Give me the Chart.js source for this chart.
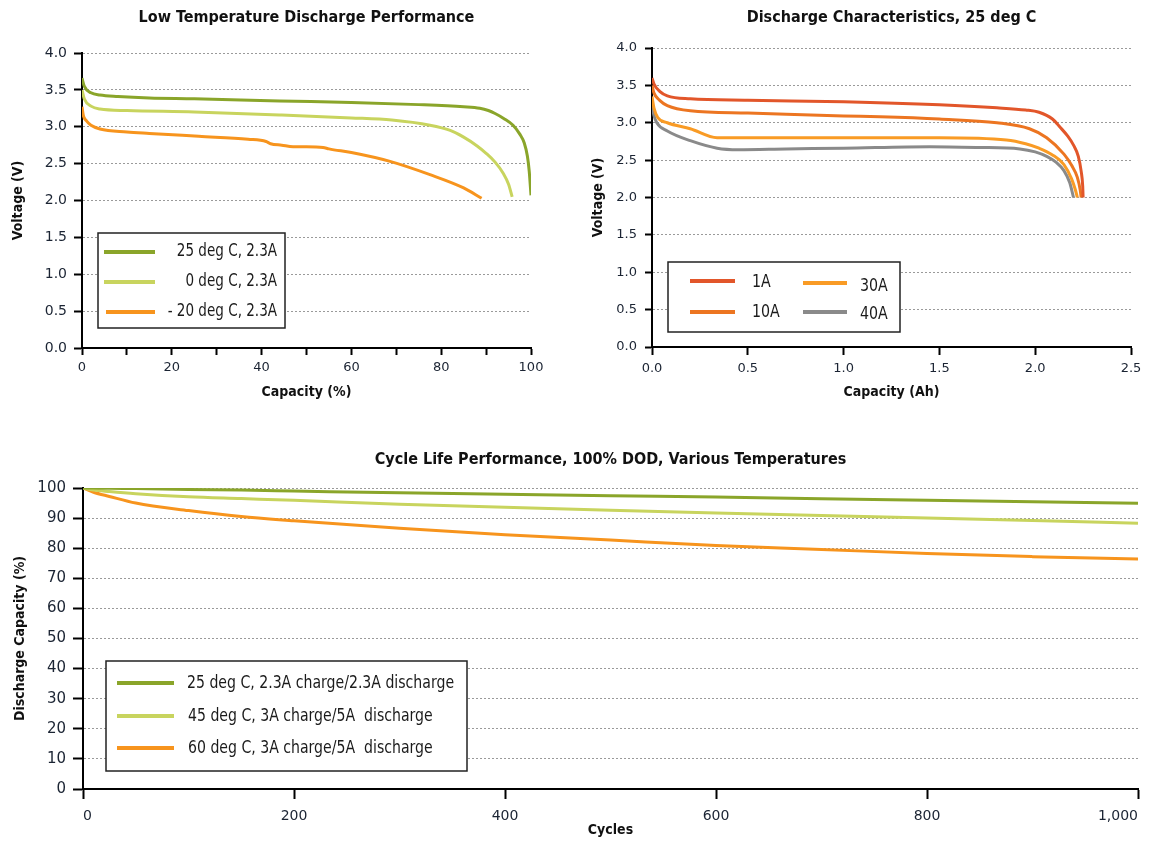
<!DOCTYPE html>
<html>
<head>
<meta charset="utf-8">
<script src="https://cdn.jsdelivr.net/npm/chart.js@4.4.0/dist/chart.umd.min.js"></script>
<style>
html, body { margin: 0; padding: 0; background: #fff; overflow: hidden; width: 1150px; height: 843px; }
canvas { position: absolute; }
</style>
</head>
<body>
<canvas id="c1" width="575" height="410" style="left:0;top:0"></canvas>
<canvas id="c2" width="575" height="410" style="left:575px;top:0"></canvas>
<canvas id="c3" width="1180" height="413" style="left:0;top:430px"></canvas>
<script>
// --- Low temperature discharge (capacity %, voltage V)
const cap25 = [0, 0.5, 2, 4, 8, 15, 25, 44, 60, 75, 85, 88.6, 90.5, 92, 94, 96, 97.5, 98.5, 99.2, 99.6, 100];
const volt25 = [3.66, 3.55, 3.46, 3.43, 3.41, 3.39, 3.38, 3.35, 3.33, 3.30, 3.27, 3.25, 3.22, 3.18, 3.11, 3.02, 2.90, 2.78, 2.60, 2.40, 2.07];
const cap0 = [0, 0.5, 2, 4, 10, 25, 44, 60, 69, 77.5, 82, 85, 88, 90, 92, 93.8, 95, 95.8];
const volt0 = [3.50, 3.38, 3.28, 3.24, 3.22, 3.20, 3.16, 3.12, 3.09, 3.02, 2.95, 2.86, 2.74, 2.64, 2.52, 2.37, 2.22, 2.05];
const capM20 = [0, 0.3, 1, 2, 4, 10, 15, 26, 37, 41, 42, 44.5, 47, 50, 53.7, 55, 60, 68.6, 77.5, 85, 89];
const voltM20 = [3.27, 3.15, 3.08, 3.02, 2.97, 2.93, 2.91, 2.87, 2.83, 2.80, 2.77, 2.75, 2.73, 2.73, 2.72, 2.70, 2.65, 2.53, 2.35, 2.17, 2.03];
const lowTempLabels = ['25 deg C, 2.3A', '0 deg C, 2.3A', '- 20 deg C, 2.3A'];

// --- Discharge at 25 deg C (capacity Ah, voltage V)
const ah1 = [0, 0.01, 0.04, 0.08, 0.2, 0.5, 1.0, 1.5, 1.8, 1.95, 2.02, 2.09, 2.13, 2.17, 2.20, 2.225, 2.24, 2.248, 2.25];
const v1 = [3.60, 3.52, 3.42, 3.36, 3.32, 3.30, 3.28, 3.24, 3.20, 3.17, 3.14, 3.05, 2.94, 2.82, 2.70, 2.55, 2.35, 2.15, 2.00];
const ah10 = [0, 0.01, 0.04, 0.08, 0.2, 0.5, 1.0, 1.19, 1.5, 1.8, 1.97, 2.06, 2.15, 2.19, 2.22, 2.235, 2.24];
const v10 = [3.50, 3.40, 3.30, 3.23, 3.16, 3.13, 3.09, 3.08, 3.05, 3.00, 2.92, 2.80, 2.58, 2.43, 2.27, 2.10, 2.00];
const ah30 = [0, 0.01, 0.03, 0.08, 0.2, 0.34, 0.5, 1.0, 1.5, 1.85, 1.95, 2.02, 2.09, 2.15, 2.19, 2.21, 2.22];
const v30 = [3.35, 3.20, 3.07, 3.00, 2.92, 2.80, 2.80, 2.80, 2.80, 2.77, 2.72, 2.66, 2.57, 2.44, 2.25, 2.10, 2.00];
const ah40 = [0, 0.01, 0.025, 0.08, 0.2, 0.34, 0.45, 0.7, 1.0, 1.45, 1.7, 1.92, 2.0, 2.06, 2.11, 2.15, 2.18, 2.20];
const v40 = [3.22, 3.10, 3.00, 2.89, 2.76, 2.66, 2.64, 2.65, 2.66, 2.68, 2.67, 2.65, 2.61, 2.55, 2.47, 2.36, 2.20, 2.00];
const rateLabels = ['1A', '10A', '30A', '40A'];

// --- Cycle life (cycles, discharge capacity %)
const cycles = [0, 10, 25, 50, 100, 150, 200, 300, 400, 500, 600, 700, 800, 900, 1000];
const life25 = [100, 100, 99.9, 99.8, 99.5, 99.3, 99.0, 98.4, 97.9, 97.4, 97.0, 96.4, 95.9, 95.4, 94.9];
const life45 = [100, 99.3, 98.8, 98.1, 97.1, 96.5, 95.9, 94.6, 93.6, 92.6, 91.7, 90.9, 90.0, 89.2, 88.3];
const life60 = [100, 98.6, 97.2, 95.0, 92.5, 90.5, 89.1, 86.6, 84.5, 82.7, 80.9, 79.6, 78.2, 77.2, 76.4];
const lifeLabels = ['25 deg C, 2.3A charge/2.3A discharge', '45 deg C, 3A charge/5A  discharge', '60 deg C, 3A charge/5A  discharge'];

const GREEN = '#8aa52a', LIGHT = '#c8d45e', ORANGE = '#f7941d';
const TICK_COLOR = '#1b2433';
const COND = "'DejaVu Sans Condensed', 'DejaVu Sans', sans-serif";

const toXY = (xs, ys) => xs.map((x, i) => ({ x: x, y: ys[i] }));

function line(label, xs, ys, color) {
  return {
    label: label, data: toXY(xs, ys), borderColor: color, backgroundColor: color,
    borderWidth: 3, pointRadius: 0, cubicInterpolationMode: 'monotone', fill: false
  };
}

// draws the boxed legend inside the plot (text squeezed to look like a narrow face)
const boxLegend = {
  id: 'boxLegend',
  afterDatasetsDraw(chart, args, o) {
    if (!o || !o.items) return;
    const ctx = chart.ctx;
    ctx.save();
    ctx.fillStyle = '#fff';
    ctx.fillRect(o.x, o.y, o.w, o.h);
    ctx.strokeStyle = '#222';
    ctx.lineWidth = 1.5;
    ctx.strokeRect(o.x, o.y, o.w, o.h);
    ctx.font = o.font;
    ctx.textBaseline = 'middle';
    chart.data.datasets.forEach((ds, i) => {
      const it = o.items[i];
      ctx.strokeStyle = ds.borderColor;
      ctx.lineWidth = 4;
      ctx.beginPath();
      ctx.moveTo(it.x1, it.y);
      ctx.lineTo(it.x2, it.y);
      ctx.stroke();
      ctx.save();
      ctx.translate(it.tx, it.ty || it.y);
      ctx.scale(o.squeeze || 1, 1);
      ctx.fillStyle = '#1b1b1b';
      ctx.textAlign = it.align || 'left';
      ctx.fillText(ds.label, 0, 0);
      ctx.restore();
    });
    ctx.restore();
  }
};
Chart.register(boxLegend);

function xAxis(o) {
  return {
    type: 'linear', min: o.min, max: o.max,
    afterFit: s => { s.height = o.height; },
    ticks: {
      stepSize: o.step, autoSkip: false, maxRotation: 0, padding: o.pad, color: TICK_COLOR,
      align: o.align || 'center',
      font: { family: 'DejaVu Sans', size: o.size },
      callback: o.fmt
    },
    grid: { drawOnChartArea: false, drawTicks: true, tickLength: o.tick, tickColor: '#000', tickWidth: 2, tickBorderDash: [] },
    border: { display: true, color: '#000', width: 2 },
    title: { display: true, text: o.title, color: '#111', padding: { top: 0, bottom: o.titlePad },
      font: { family: COND, size: 14, weight: 'bold' } }
  };
}

function yAxis(o) {
  return {
    type: 'linear', min: o.min, max: o.max,
    afterFit: s => { s.width = o.width; },
    ticks: {
      stepSize: o.step, autoSkip: false, padding: o.pad, color: TICK_COLOR,
      font: { family: 'DejaVu Sans', size: o.size },
      callback: o.fmt
    },
    grid: { color: '#9a9a9a', lineWidth: 1, drawTicks: true, tickLength: o.tick, tickColor: '#000', tickWidth: 2, tickBorderDash: [] },
    border: { display: true, color: '#000', width: 2, dash: [2, 2] },
    title: { display: true, text: o.title, color: '#111', padding: { top: o.titlePad, bottom: 0 },
      font: { family: COND, size: 14, weight: 'bold' } }
  };
}

function titleOpts(text, top, bottom) {
  return {
    display: true, text: text, color: '#111', fullSize: false,
    padding: { top: top, bottom: bottom },
    font: { family: COND, size: 16, weight: 'bold' }
  };
}

const common = { responsive: false, animation: false, events: [] };

// Chart 1
new Chart(document.getElementById('c1'), {
  type: 'line',
  data: { datasets: [
    line(lowTempLabels[0], cap25, volt25, GREEN),
    line(lowTempLabels[1], cap0, volt0, LIGHT),
    line(lowTempLabels[2], capM20, voltM20, ORANGE)
  ] },
  options: Object.assign({}, common, {
    layout: { padding: { left: 0, right: 44, top: 0, bottom: 0 } },
    scales: {
      x: xAxis({ min: 0, max: 100, step: 10, height: 62, pad: 5, size: 13, tick: 7, titlePad: 9.6,
        title: 'Capacity (%)', fmt: v => (v % 20 === 0 ? v : '') }),
      y: yAxis({ min: 0, max: 4, step: 0.5, width: 82, pad: 7, size: 14, tick: 8, titlePad: 9.6,
        title: 'Voltage (V)', fmt: v => v.toFixed(1) })
    },
    plugins: {
      legend: { display: false },
      tooltip: { enabled: false },
      title: titleOpts('Low Temperature Discharge Performance', 8.4, 25.4),
      boxLegend: {
        x: 98, y: 233, w: 187, h: 95, font: '17px ' + COND, squeeze: 0.885,
        items: [
          { x1: 104, x2: 155, y: 252, tx: 277, align: 'right' },
          { x1: 104, x2: 155, y: 282, tx: 277, align: 'right' },
          { x1: 106, x2: 155, y: 312, tx: 277, align: 'right' }
        ]
      }
    }
  })
});

// Chart 2
new Chart(document.getElementById('c2'), {
  type: 'line',
  data: { datasets: [
    line(rateLabels[0], ah1, v1, '#e2562a'),
    line(rateLabels[1], ah10, v10, '#ec7521'),
    line(rateLabels[2], ah30, v30, '#f99b25'),
    line(rateLabels[3], ah40, v40, '#8a8a8a')
  ] },
  options: Object.assign({}, common, {
    layout: { padding: { left: 0, right: 19, top: 0, bottom: 0 } },
    scales: {
      x: xAxis({ min: 0, max: 2.5, step: 0.5, height: 63, pad: 6, size: 13, tick: 8, titlePad: 9.6,
        title: 'Capacity (Ah)', fmt: v => v.toFixed(1) }),
      y: yAxis({ min: 0, max: 4, step: 0.5, width: 77, pad: 8, size: 13, tick: 7, titlePad: 14.6,
        title: 'Voltage (V)', fmt: v => v.toFixed(1) })
    },
    plugins: {
      legend: { display: false },
      tooltip: { enabled: false },
      title: titleOpts('Discharge Characteristics, 25 deg C', 8.4, 20.4),
      boxLegend: {
        x: 93, y: 262, w: 232, h: 70, font: '17px ' + COND, squeeze: 0.93,
        items: [
          { x1: 115, x2: 160, y: 281, tx: 177, ty: 283 },
          { x1: 115, x2: 160, y: 312, tx: 177, ty: 313 },
          { x1: 228, x2: 272, y: 283, tx: 285, ty: 287 },
          { x1: 228, x2: 272, y: 312, tx: 285, ty: 315 }
        ]
      }
    }
  })
});

// Chart 3
new Chart(document.getElementById('c3'), {
  type: 'line',
  data: { datasets: [
    line(lifeLabels[0], cycles, life25, GREEN),
    line(lifeLabels[1], cycles, life45, LIGHT),
    line(lifeLabels[2], cycles, life60, ORANGE)
  ] },
  options: Object.assign({}, common, {
    layout: { padding: { left: 0, right: 42, top: 0, bottom: 0 } },
    scales: {
      x: xAxis({ min: 0, max: 1000, step: 200, height: 54, pad: 8.6, size: 14, tick: 10, titlePad: 4.6,
        align: 'inner', title: 'Cycles', fmt: v => v.toLocaleString('en-US') }),
      y: yAxis({ min: 0, max: 100, step: 10, width: 83, pad: 7, size: 15, tick: 10, titlePad: 11.6,
        title: 'Discharge Capacity (%)', fmt: v => v })
    },
    plugins: {
      legend: { display: false },
      tooltip: { enabled: false },
      title: titleOpts('Cycle Life Performance, 100% DOD, Various Temperatures', 20.4, 18.4),
      boxLegend: {
        x: 106, y: 231, w: 361, h: 110, font: '18px ' + COND, squeeze: 0.87,
        items: [
          { x1: 117, x2: 174, y: 253, tx: 187 },
          { x1: 117, x2: 174, y: 286, tx: 188 },
          { x1: 117, x2: 174, y: 318, tx: 188 }
        ]
      }
    }
  })
});
</script>
</body>
</html>
